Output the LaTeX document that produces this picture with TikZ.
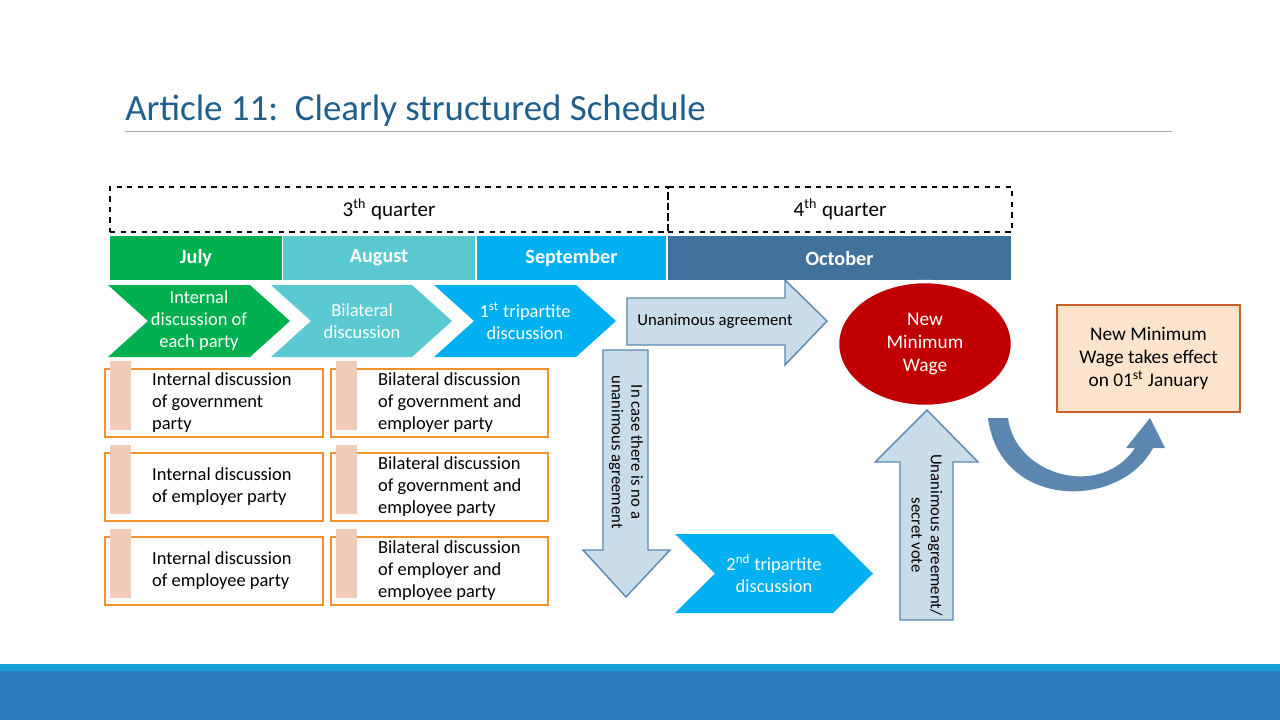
\documentclass[tikz,border=0pt]{standalone}
\usepackage{fontspec}
\setmainfont{Carlito}
\usetikzlibrary{positioning, shapes.geometric}
\definecolor{titleblue}{HTML}{1F5F8B}
\definecolor{julygreen}{HTML}{00B050}
\definecolor{augteal}{HTML}{5BC9D1}
\definecolor{sepblue}{HTML}{00B0F0}
\definecolor{octblue}{HTML}{41729C}
\definecolor{arrfill}{HTML}{C9DCEA}
\definecolor{arrline}{HTML}{5A86AF}
\definecolor{boxorange}{HTML}{F0922E}
\definecolor{tabpink}{HTML}{F2CBB8}
\definecolor{wagered}{HTML}{C00000}
\definecolor{effectfill}{HTML}{FCE4CC}
\definecolor{effectline}{HTML}{C8602A}
\definecolor{barblue}{HTML}{2B7BC0}
\definecolor{barlight}{HTML}{1AA0D8}
\tikzset{
  quarter/.style={draw, dashed, thick, minimum height=0.9cm, font=\fontsize{12}{14}\selectfont},
  month/.style={minimum height=0.88cm, text=white, font=\bfseries\fontsize{11.5}{14}\selectfont},
  chev/.style={text=white, align=center, font=\fontsize{10.5}{12.5}\selectfont},
  party/.style={draw=boxorange, thick, fill=white, anchor=north west},
  ptext/.style={align=left, anchor=west, font=\fontsize{10.5}{12.5}\selectfont},
  blockarrow/.style={fill=arrfill, draw=arrline, thick}
}
\begin{document}
\begin{tikzpicture}[x=0.02cm, y=-0.02cm]
\useasboundingbox (0,0) rectangle (1280,720);
% title
\node[anchor=base west, inner sep=0, text=titleblue, font=\fontsize{21}{24}\selectfont] (title) at (125,120) {Article 11:\ \ Clearly structured Schedule};
\draw[gray!70] (125,131) -- (1172,131);
% quarters
\node[quarter, minimum width=11.16cm] (q3) at (389,209.5) {3\textsuperscript{th} quarter};
\node[quarter, minimum width=6.88cm] (q4) at (840,209.5) {4\textsuperscript{th} quarter};
% months
\node[month, fill=julygreen, minimum width=3.44cm] (july) at (196,258) {July};
\node[month, fill=augteal, minimum width=3.84cm] (aug) at (379,258) {August};
\node[month, fill=sepblue, minimum width=3.78cm] (sep) at (571.5,258) {September};
\node[month, fill=octblue, minimum width=6.86cm] (oct) at (839.5,258) {October};
% chevrons
\fill[julygreen] (108,285) -- (250,285) -- (290,321) -- (250,357) -- (108,357) -- (148,321) -- cycle;
\fill[augteal] (271,285) -- (412,285) -- (452,321) -- (412,357) -- (271,357) -- (311,321) -- cycle;
\fill[sepblue] (434,285) -- (576,285) -- (616,321) -- (576,357) -- (434,357) -- (474,321) -- cycle;
\node[chev] (internal) at (199,321) {Internal\\discussion of\\each party};
\node[chev] (bilateral) at (362,321) {Bilateral\\discussion};
\node[chev] (tri1) at (525,321) {1\textsuperscript{st} tripartite\\discussion};
% party boxes
\foreach \y/\txt [count=\i] in {369/{Internal discussion\\of government\\party}, 453/{Internal discussion\\of employer party}, 537/{Internal discussion\\of employee party}} {
  \draw[party] (105,\y) rectangle (323,\y+68);
  \fill[tabpink] (110,\y-8) rectangle (131,\y+61);
  \node[ptext] (int\i) at (146,\y+34) {\txt};
}
\foreach \y/\txt [count=\i] in {369/{Bilateral discussion\\of government and\\employer party}, 453/{Bilateral discussion\\of government and\\employee party}, 537/{Bilateral discussion\\of employer and\\employee party}} {
  \draw[party] (331,\y) rectangle (548,\y+68);
  \fill[tabpink] (336,\y-8) rectangle (357,\y+61);
  \node[ptext] (bil\i) at (372,\y+34) {\txt};
}
% unanimous agreement arrow
\draw[blockarrow] (627,298) -- (785,298) -- (785,280) -- (827,321) -- (785,365) -- (785,345) -- (627,345) -- cycle;
\node[font=\fontsize{9.5}{11}\selectfont] (unan) at (715,321) {Unanimous agreement};
% no agreement arrow
\draw[blockarrow] (603,350) -- (648,350) -- (648,550) -- (670,550) -- (626,597) -- (583,550) -- (603,550) -- cycle;
\node[rotate=-90, align=center, font=\fontsize{9.5}{11}\selectfont] (noagree) at (626,452) {In case there is no a\\unanimous agreement};
% 2nd tripartite
\fill[sepblue] (675,534) -- (833,534) -- (873,573.5) -- (833,613) -- (675,613) -- (715,573.5) -- cycle;
\node[chev] (tri2) at (774,573.5) {2\textsuperscript{nd} tripartite\\discussion};
% vote arrow
\draw[blockarrow] (900,620) -- (953,620) -- (953,462) -- (978,462) -- (927,410) -- (875,462) -- (900,462) -- cycle;
\node[rotate=-90, align=center, font=\fontsize{9.5}{11}\selectfont] (vote) at (927,535) {Unanimous agreement/\\secret vote};
% new minimum wage
\node[ellipse, fill=wagered, draw=white, line width=2pt, minimum width=3.5cm, minimum height=2.5cm, text=white, align=center, font=\fontsize{11}{13}\selectfont] (wage) at (925,344) {New\\Minimum\\Wage};
% takes effect
\node[draw=effectline, thick, fill=effectfill, minimum width=3.66cm, minimum height=2.14cm, align=center, font=\fontsize{11}{13}\selectfont] (effect) at (1148.5,358.5) {New Minimum\\Wage takes effect\\on 01\textsuperscript{st} January};
% curved arrow
\fill[arrline] (988,418) -- (1008,418) .. controls (1015,475) and (1100,500) .. (1135,448)
  -- (1126,448) -- (1150,418) -- (1165,448) -- (1153,448)
  .. controls (1120,510) and (1000,510) .. (988,418) -- cycle;
% bottom bar
\fill[barblue] (0,664) rectangle (1280,720);
\fill[barlight] (0,664) rectangle (1280,671);
\end{tikzpicture}
\end{document}
